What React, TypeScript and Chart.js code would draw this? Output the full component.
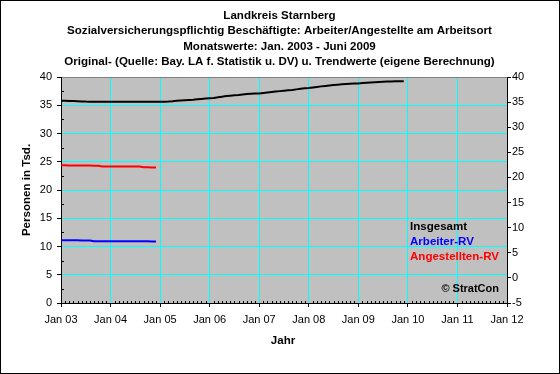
import React, { useEffect, useRef } from "react";
import { Chart, registerables } from "chart.js";

Chart.register(...registerables);

const FONT = "'Liberation Sans', Arial, sans-serif";

const titleLines = [
  "Landkreis Starnberg",
  "Sozialversicherungspflichtig Beschäftigte: Arbeiter/Angestellte am Arbeitsort",
  "Monatswerte: Jan. 2003 - Juni 2009",
  "Original- (Quelle: Bay. LA f. Statistik u. DV) u. Trendwerte (eigene Berechnung)",
];

const xTickLabels = ["Jan 03", "Jan 04", "Jan 05", "Jan 06", "Jan 07", "Jan 08", "Jan 09", "Jan 10", "Jan 11", "Jan 12"];

// Monthly values (Tsd.), starting Jan 2003
const insgesamt = [
  35.8, 35.79, 35.77, 35.75, 35.72, 35.68, 35.65, 35.64, 35.63, 35.63, 35.63, 35.63,
  35.63, 35.63, 35.63, 35.63, 35.63, 35.63, 35.63, 35.63, 35.63, 35.63, 35.63, 35.63,
  35.63, 35.64, 35.66, 35.7, 35.8, 35.84, 35.89, 35.94, 35.98, 36.05, 36.12, 36.2,
  36.25, 36.3, 36.4, 36.52, 36.64, 36.7, 36.75, 36.8, 36.9, 37.0, 37.03, 37.07,
  37.1, 37.18, 37.27, 37.35, 37.43, 37.5, 37.57, 37.64, 37.7, 37.81, 37.93, 37.99,
  38.05, 38.16, 38.25, 38.34, 38.42, 38.5, 38.57, 38.64, 38.7, 38.75, 38.8, 38.84,
  38.87, 38.93, 38.98, 39.04, 39.09, 39.13, 39.17, 39.2, 39.22, 39.24, 39.25, 39.26,
];

const angestellten = [
  24.36, 24.36, 24.35, 24.35, 24.34, 24.34, 24.33, 24.32, 24.31, 24.3, 24.18, 24.18,
  24.18, 24.18, 24.17, 24.17, 24.17, 24.16, 24.16, 24.15, 24.02, 24.01, 24.0, 24.0,
];

const arbeiter = [
  11.1, 11.1, 11.1, 11.09, 11.09, 11.08, 11.08, 11.07, 10.92, 10.92, 10.92, 10.92,
  10.92, 10.92, 10.92, 10.92, 10.91, 10.91, 10.91, 10.91, 10.91, 10.91, 10.9, 10.9,
];

const toPoints = (arr: number[]) => arr.map((v, i) => ({ x: i / 12, y: v }));

const decorPlugin = {
  id: "decor",
  beforeDraw(chart: any) {
    const { ctx, chartArea: a, width, height } = chart;
    ctx.save();
    ctx.fillStyle = "#ffffff";
    ctx.fillRect(0, 0, width, height);
    ctx.fillStyle = "#c0c0c0";
    ctx.fillRect(a.left, a.top, a.right - a.left, a.bottom - a.top);
    ctx.restore();
  },
  afterDraw(chart: any) {
    const { ctx, chartArea: a, width, height, scales } = chart;
    ctx.save();
    // outer border
    ctx.strokeStyle = "#000";
    ctx.lineWidth = 1;
    ctx.strokeRect(0.5, 0.5, width - 1, height - 1);
    // minor ticks on x axis (monthly)
    ctx.beginPath();
    for (let m = 1; m < 108; m++) {
      if (m % 12 === 0) continue;
      const px = Math.round(scales.x.getPixelForValue(m / 12)) + 0.5;
      ctx.moveTo(px, a.bottom - 2);
      ctx.lineTo(px, a.bottom);
    }
    // minor ticks on left axis
    for (let v = 2.5; v < 40; v += 5) {
      const py = Math.round(scales.y.getPixelForValue(v)) + 0.5;
      ctx.moveTo(a.left, py);
      ctx.lineTo(a.left + 3, py);
    }
    ctx.stroke();
    // titles
    ctx.fillStyle = "#000";
    ctx.textAlign = "center";
    ctx.textBaseline = "middle";
    ctx.font = `bold 11.55px ${FONT}`;
    const ys = [16, 31, 46.5, 62];
    titleLines.forEach((t, i) => ctx.fillText(t, 279.5, ys[i]));
    // axis titles
    ctx.fillText("Jahr", 283, 341);
    ctx.save();
    ctx.translate(27, (a.top + a.bottom) / 2);
    ctx.rotate(-Math.PI / 2);
    ctx.fillText("Personen in Tsd.", 0, 0);
    ctx.restore();
    // legend texts
    ctx.textAlign = "left";
    ctx.fillStyle = "#000000";
    ctx.fillText("Insgesamt", 410, 227);
    ctx.fillStyle = "#0000ff";
    ctx.fillText("Arbeiter-RV", 410, 242);
    ctx.fillStyle = "#ff0000";
    ctx.fillText("Angestellten-RV", 410, 257);
    ctx.fillStyle = "#000000";
    ctx.textAlign = "right";
    ctx.font = `bold 11px ${FONT}`;
    ctx.fillText("© StratCon", 499, 289);
    ctx.restore();
  },
};

export default function App() {
  const ref = useRef<HTMLCanvasElement>(null);
  useEffect(() => {
    document.body.style.margin = "0";
    const canvas = ref.current!;
    const tickFont = { family: FONT, size: 11 };
    const chart = new Chart(canvas, {
      type: "line",
      data: {
        datasets: [
          { label: "Insgesamt", data: toPoints(insgesamt), borderColor: "#000000", borderWidth: 2, pointRadius: 0, yAxisID: "y" },
          { label: "Angestellten-RV", data: toPoints(angestellten), borderColor: "#ff0000", borderWidth: 2, pointRadius: 0, yAxisID: "y" },
          { label: "Arbeiter-RV", data: toPoints(arbeiter), borderColor: "#0000ff", borderWidth: 2, pointRadius: 0, yAxisID: "y" },
        ],
      },
      options: {
        animation: false,
        responsive: false,
        devicePixelRatio: 1,
        layout: { padding: { top: 77, left: 0, right: 0, bottom: 0 } },
        plugins: { legend: { display: false }, title: { display: false }, tooltip: { enabled: false } },
        scales: {
          x: {
            type: "linear",
            min: 0,
            max: 9,
            ticks: {
              stepSize: 1,
              autoSkip: false,
              maxRotation: 0,
              color: "#000",
              font: tickFont,
              padding: 6,
              callback: (v: any) => xTickLabels[Math.round(v)] ?? "",
            },
            grid: {
              color: (c: any) => (c.tick && (c.tick.value === 0 || c.tick.value === 9) ? "#000000" : "#00ffff"),
              tickColor: "#000000",
              tickLength: 4,
              lineWidth: 1,
            },
            border: { color: "#000000" },
            afterFit: (s: any) => { s.height = 71; },
          },
          y: {
            position: "left",
            min: 0,
            max: 40,
            ticks: { stepSize: 5, color: "#000", font: tickFont, padding: 5 },
            grid: {
              color: (c: any) => (c.tick && c.tick.value === 40 ? "#808080" : c.tick && c.tick.value === 0 ? "#000000" : "#00ffff"),
              tickColor: "#000000",
              tickLength: 4,
            },
            border: { color: "#000000" },
            afterFit: (s: any) => { s.width = 61; },
          },
          y2: {
            position: "right",
            min: -5,
            max: 40,
            ticks: { stepSize: 5, color: "#000", font: tickFont, padding: 1 },
            grid: { drawOnChartArea: false, tickColor: "#000000", tickLength: 4 },
            border: { color: "#000000" },
            afterFit: (s: any) => { s.width = 53; },
          },
        },
      },
      plugins: [decorPlugin],
    });
    return () => chart.destroy();
  }, []);
  return <canvas ref={ref} width={560} height={374} style={{ display: "block", width: 560, height: 374 }} />;
}
